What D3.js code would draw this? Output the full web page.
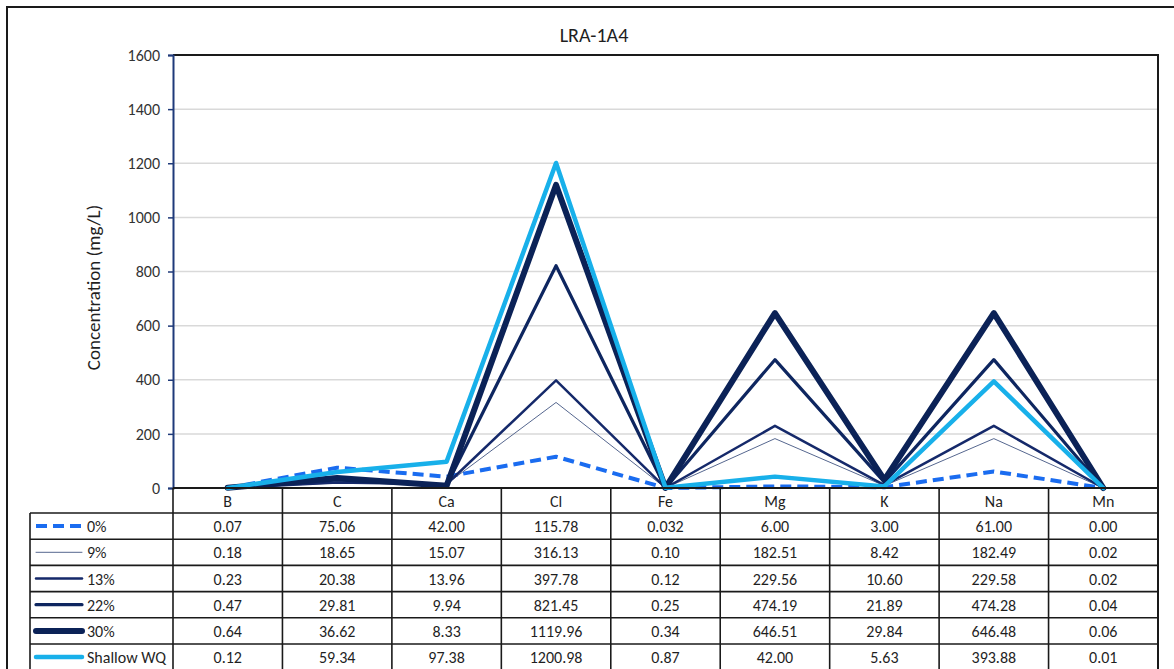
<!DOCTYPE html>
<html>
<head>
<meta charset="utf-8">
<script src="https://cdn.jsdelivr.net/npm/d3@7"></script>
<style>
  html, body { margin: 0; padding: 0; background: #fff; }
  svg { display: block; font-family: Carlito, Calibri, Lato, "Open Sans", sans-serif; }
</style>
</head>
<body>
<svg id="chart" width="1174" height="669"></svg>
<script>
// Analytes along the x axis
const categories = ["B", "C", "Ca", "Cl", "Fe", "Mg", "K", "Na", "Mn"];

// Concentrations (mg/L) for each mixing ratio
const seriesNames = ["0%", "9%", "13%", "22%", "30%", "Shallow WQ"];
const v0   = [0.07, 75.06, 42.00, 115.78, 0.032, 6.00, 3.00, 61.00, 0.00];
const v9   = [0.18, 18.65, 15.07, 316.13, 0.10, 182.51, 8.42, 182.49, 0.02];
const v13  = [0.23, 20.38, 13.96, 397.78, 0.12, 229.56, 10.60, 229.58, 0.02];
const v22  = [0.47, 29.81, 9.94, 821.45, 0.25, 474.19, 21.89, 474.28, 0.04];
const v30  = [0.64, 36.62, 8.33, 1119.96, 0.34, 646.51, 29.84, 646.48, 0.06];
const vSh  = [0.12, 59.34, 97.38, 1200.98, 0.87, 42.00, 5.63, 393.88, 0.01];

const yTicks = [0, 200, 400, 600, 800, 1000, 1200, 1400, 1600];

// Line styling per series
const styles = [
  { color: "#1a6cf0", width: 4,   dash: "11,6" },
  { color: "#56678f", width: 1,   dash: null },
  { color: "#15296a", width: 2.5, dash: null },
  { color: "#0e2660", width: 3.2, dash: null },
  { color: "#0b2257", width: 6,   dash: null },
  { color: "#18b0ea", width: 4.5, dash: null }
];

const series = [v0, v9, v13, v22, v30, vSh].map((values, i) => ({
  name: seriesNames[i], values, style: styles[i]
}));

const svg = d3.select("#chart");
const W = 1174, H = 669;
const plotL = 173, plotR = 1158, plotT = 55, plotB = 488;
const rowH = 26.2, headH = 25, legendLeft = 30;
const fs = 16, textColor = "#1f1f1f";

// Outer frame
svg.append("path")
  .attr("d", `M7,${H + 2}V7H${W + 2}`)
  .attr("fill", "none").attr("stroke", "#1a1a1a").attr("stroke-width", 2);

const x = d3.scaleBand().domain(categories).range([plotL, plotR]).padding(0);
const y = d3.scaleLinear().domain([0, 1600]).range([plotB, plotT]);
const cx = c => x(c) + x.bandwidth() / 2;

// Title
svg.append("text")
  .attr("x", 594).attr("y", 42)
  .attr("text-anchor", "middle")
  .attr("font-size", 20).attr("fill", textColor)
  .text("LRA-1A4");

// Gridlines
svg.append("g").selectAll("line")
  .data(yTicks.filter(t => t > 0 && t < 1600))
  .join("line")
  .attr("x1", plotL).attr("x2", plotR)
  .attr("y1", d => y(d)).attr("y2", d => y(d))
  .attr("stroke", "#d9d9d9").attr("stroke-width", 1.5);

// Plot area top and right edges
svg.append("path")
  .attr("d", `M${plotL},${y(1600)}H${plotR}V${H + 2}`)
  .attr("fill", "none").attr("stroke", "#1a1a1a").attr("stroke-width", 2);

// Y axis
const yAxis = d3.axisLeft(y).tickValues(yTicks).tickSize(5).tickPadding(8).tickFormat(d3.format("d"));
const gy = svg.append("g").attr("transform", `translate(${plotL},0)`).call(yAxis);
gy.select(".domain").attr("stroke", "#1f3a7a").attr("stroke-width", 2);
gy.selectAll(".tick line").attr("stroke", "#1f3a7a").attr("stroke-width", 1.5);
gy.selectAll(".tick text")
  .attr("font-size", fs).attr("fill", "#333")
  .attr("font-family", "Carlito, Calibri, Lato, sans-serif");

// Y axis title
svg.append("text")
  .attr("transform", `translate(100,${(plotT + plotB) / 2 + 16}) rotate(-90)`)
  .attr("text-anchor", "middle")
  .attr("font-size", 19).attr("fill", textColor)
  .text("Concentration (mg/L)");

// Series lines
const line = d3.line()
  .x((d, i) => cx(categories[i]))
  .y(d => y(d))
  .curve(d3.curveLinear);

svg.append("g").selectAll("path")
  .data(series)
  .join("path")
  .attr("d", d => line(d.values))
  .attr("fill", "none")
  .attr("stroke", d => d.style.color)
  .attr("stroke-width", d => d.style.width)
  .attr("stroke-dasharray", d => d.style.dash)
  .attr("stroke-linejoin", "round")
  .attr("stroke-linecap", d => d.style.dash ? "butt" : "round");

// Data table
const tableTop = plotB;
const rowsTop = tableTop + headH;
const tableBottom = rowsTop + rowH * series.length;
const tbl = svg.append("g");
const bc = "#1a1a1a";

// Horizontal rules
tbl.append("line").attr("x1", plotL).attr("x2", plotR)
  .attr("y1", plotB).attr("y2", plotB).attr("stroke", bc).attr("stroke-width", 2);
d3.range(series.length + 1).forEach(i => {
  const yy = rowsTop + i * rowH;
  tbl.append("line").attr("x1", legendLeft).attr("x2", plotR)
    .attr("y1", yy).attr("y2", yy).attr("stroke", bc).attr("stroke-width", 1.6);
});
// Vertical rules
tbl.append("line").attr("x1", legendLeft).attr("x2", legendLeft)
  .attr("y1", rowsTop).attr("y2", tableBottom).attr("stroke", bc).attr("stroke-width", 1.6);
categories.concat(["_end"]).forEach((c, i) => {
  const xx = plotL + i * x.bandwidth();
  tbl.append("line").attr("x1", xx).attr("x2", xx)
    .attr("y1", tableTop).attr("y2", tableBottom).attr("stroke", bc).attr("stroke-width", 1.6);
});

// Header labels
tbl.selectAll("text.cat")
  .data(categories)
  .join("text")
  .attr("class", "cat")
  .attr("x", d => cx(d)).attr("y", tableTop + headH / 2 + 6)
  .attr("text-anchor", "middle").attr("font-size", fs).attr("fill", textColor)
  .text(d => d);

// Value formatting: two decimals unless the value carries more
const fmt = v => {
  const dec = (String(v).split(".")[1] || "").length;
  return v.toFixed(Math.max(2, dec));
};

series.forEach((s, r) => {
  const yy = rowsTop + r * rowH;
  // legend key
  tbl.append("line")
    .attr("x1", 36).attr("x2", 82)
    .attr("y1", yy + rowH / 2).attr("y2", yy + rowH / 2)
    .attr("stroke", s.style.color)
    .attr("stroke-width", s.style.width)
    .attr("stroke-dasharray", s.style.dash)
    .attr("stroke-linecap", s.style.dash ? "butt" : "round");
  tbl.append("text")
    .attr("x", 87).attr("y", yy + rowH / 2 + 6)
    .attr("font-size", fs).attr("fill", textColor)
    .text(s.name);
  // values
  tbl.selectAll(null)
    .data(s.values)
    .join("text")
    .attr("x", (d, i) => cx(categories[i]))
    .attr("y", yy + rowH / 2 + 6)
    .attr("text-anchor", "middle").attr("font-size", fs).attr("fill", textColor)
    .text(d => fmt(d));
});
</script>
</body>
</html>
